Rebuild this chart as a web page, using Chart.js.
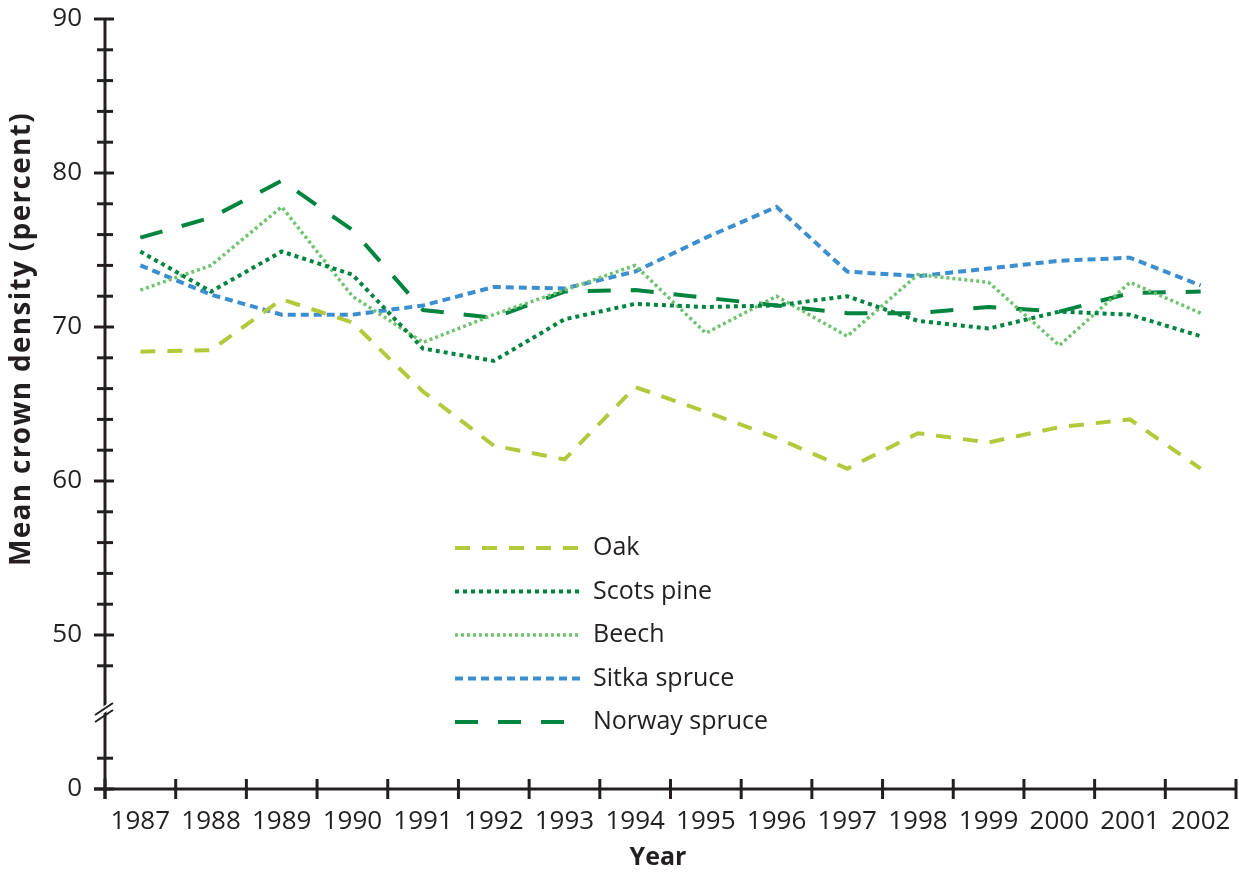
<!DOCTYPE html>
<html>
<head>
<meta charset="utf-8">
<script src="https://cdn.jsdelivr.net/npm/chart.js@4/dist/chart.umd.min.js"></script>
<style>
  html, body { margin: 0; padding: 0; background: #ffffff; }
  #wrap { width: 1239px; height: 872px; }
</style>
</head>
<body>
<div id="wrap"><canvas id="c" width="1239" height="872"></canvas></div>
<script>
const years = ['1987','1988','1989','1990','1991','1992','1993','1994','1995','1996','1997','1998','1999','2000','2001','2002'];
const oak          = [68.4, 68.5, 71.8, 70.3, 65.8, 62.3, 61.4, 66.1, 64.5, 62.8, 60.8, 63.1, 62.5, 63.5, 64.0, 60.8];
const scotsPine    = [74.9, 72.3, 74.9, 73.4, 68.6, 67.8, 70.5, 71.5, 71.3, 71.4, 72.0, 70.4, 69.9, 71.0, 70.8, 69.4];
const beech        = [72.4, 74.0, 77.8, 72.0, 69.0, 70.8, 72.4, 74.0, 69.6, 72.0, 69.4, 73.4, 72.9, 68.8, 72.9, 70.9];
const sitkaSpruce  = [74.0, 72.1, 70.8, 70.8, 71.4, 72.6, 72.5, 73.6, 75.8, 77.8, 73.6, 73.3, 73.8, 74.3, 74.5, 72.7];
const norwaySpruce = [75.8, 77.1, 79.5, 76.3, 71.1, 70.6, 72.3, 72.4, 71.9, 71.4, 70.9, 70.9, 71.3, 71.0, 72.2, 72.3];
const seriesNames  = ['Oak', 'Scots pine', 'Beech', 'Sitka spruce', 'Norway spruce'];
// y axis: the bottom of the axis (40 on the linear scale) is labelled "0" because of the axis break
const yTickValues = [40, 50, 60, 70, 80, 90];
const yTickLabels = ['0', '50', '60', '70', '80', '90'];
const yBreak = [43, 47];

const INK = '#231f20';
const FONT = "'Open Sans', 'DejaVu Sans', sans-serif";

const axesPlugin = {
  id: 'axesPlugin',
  afterDraw(chart) {
    const ctx = chart.ctx;
    const xs = chart.scales.x, ys = chart.scales.y;
    const ca = chart.chartArea;
    const x0 = ca.left, yb = ca.bottom;
    ctx.save();
    ctx.strokeStyle = INK;
    ctx.lineCap = 'butt';
    ctx.lineWidth = 3;
    ctx.beginPath();
    ctx.moveTo(x0, ca.top - 1);
    ctx.lineTo(x0, yb + 10);
    ctx.stroke();
    ctx.beginPath();
    ctx.moveTo(x0 - 11, yb);
    ctx.lineTo(ca.right, yb);
    ctx.stroke();
    ys.ticks.forEach(t => {
      const v = t.value;
      if (v > yBreak[0] && v < yBreak[1]) return;
      const py = ys.getPixelForValue(v);
      const major = yTickValues.includes(v);
      ctx.lineWidth = 3;
      ctx.beginPath();
      if (major) { ctx.moveTo(x0 - 11, py); ctx.lineTo(x0 + 9, py); }
      else { ctx.moveTo(x0 - 8, py); ctx.lineTo(x0 + 8, py); }
      ctx.stroke();
    });
    for (let i = 0; i <= years.length; i++) {
      const px = xs.getPixelForValue(i - 0.5);
      ctx.lineWidth = 3;
      ctx.beginPath();
      ctx.moveTo(px, yb - 10);
      ctx.lineTo(px, yb + 10);
      ctx.stroke();
    }
    const bm = ys.getPixelForValue((yBreak[0] + yBreak[1]) / 2);
    ctx.fillStyle = '#ffffff';
    ctx.beginPath();
    ctx.moveTo(x0 - 10, bm + 7);
    ctx.lineTo(x0 + 8, bm - 5);
    ctx.lineTo(x0 + 8, bm - 12);
    ctx.lineTo(x0 - 10, bm);
    ctx.closePath();
    ctx.fill();
    ctx.lineWidth = 2;
    ctx.beginPath();
    ctx.moveTo(x0 - 10, bm + 10); ctx.lineTo(x0 + 8, bm - 2);
    ctx.moveTo(x0 - 10, bm + 3); ctx.lineTo(x0 + 8, bm - 9);
    ctx.stroke();

    ctx.fillStyle = INK;
    ctx.font = "bold 25px " + FONT;
    ctx.textAlign = 'center';
    ctx.textBaseline = 'middle';
    ctx.fillText('Year', 658, 858);
    ctx.save();
    ctx.translate(22, 339);
    ctx.rotate(-Math.PI / 2);
    ctx.font = "bold 28px " + FONT;
    try { ctx.letterSpacing = '1.3px'; } catch (e) {}
    ctx.fillText('Mean crown density (percent)', 0, 0);
    ctx.restore();

    const lx0 = 455, lx1 = 580, ltx = 593;
    const rowY0 = 548, rowGap = 43.5;
    chart.data.datasets.forEach((ds, i) => {
      const ly = rowY0 + i * rowGap;
      ctx.save();
      ctx.strokeStyle = ds.borderColor;
      ctx.lineWidth = ds.borderWidth;
      ctx.setLineDash(ds.borderDash || []);
      ctx.beginPath();
      ctx.moveTo(lx0, ly);
      ctx.lineTo(lx1, ly);
      ctx.stroke();
      ctx.restore();
      ctx.fillStyle = INK;
      ctx.font = "25px " + FONT;
      ctx.textAlign = 'left';
      ctx.textBaseline = 'middle';
      ctx.fillText(ds.label, ltx, ly);
    });
    ctx.restore();
  }
};

const mk = (i, data, color, width, dash) => ({
  label: seriesNames[i], data, borderColor: color, backgroundColor: color,
  borderWidth: width, borderDash: dash, pointRadius: 0, tension: 0, fill: false,
  borderCapStyle: 'butt', borderJoinStyle: 'miter'
});

new Chart(document.getElementById('c'), {
  type: 'line',
  data: {
    labels: years,
    datasets: [
      mk(0, oak, '#b3c93b', 4, [15, 12]),
      mk(1, scotsPine, '#00843f', 4, [4, 4]),
      mk(2, beech, '#6fc26f', 3.5, [3, 3]),
      mk(3, sitkaSpruce, '#3b8ed0', 4, [8, 5]),
      mk(4, norwaySpruce, '#00843e', 4, [23, 20])
    ]
  },
  options: {
    responsive: false,
    animation: false,
    devicePixelRatio: 1,
    layout: { padding: { top: 19, right: 3, left: 0, bottom: 0 } },
    plugins: { legend: { display: false }, tooltip: { enabled: false }, title: { display: false } },
    scales: {
      x: {
        type: 'category',
        offset: true,
        grid: { display: false },
        border: { display: false },
        ticks: { autoSkip: false, maxRotation: 0, minRotation: 0, padding: 9, color: INK, font: { family: FONT, size: 26 } },
        afterFit(s) { s.height = 83; s.paddingLeft = 0; s.paddingRight = 0; }
      },
      y: {
        min: 40, max: 90,
        grid: { display: false },
        border: { display: false },
        ticks: {
          stepSize: 2, autoSkip: false, padding: 15, color: INK, font: { family: FONT, size: 26 },
          callback(v) { const k = yTickValues.indexOf(v); return k >= 0 ? yTickLabels[k] : ''; }
        },
        afterFit(s) { s.width = 105; s.paddingTop = 0; s.paddingBottom = 0; }
      }
    }
  },
  plugins: [axesPlugin]
});
</script>
</body>
</html>
